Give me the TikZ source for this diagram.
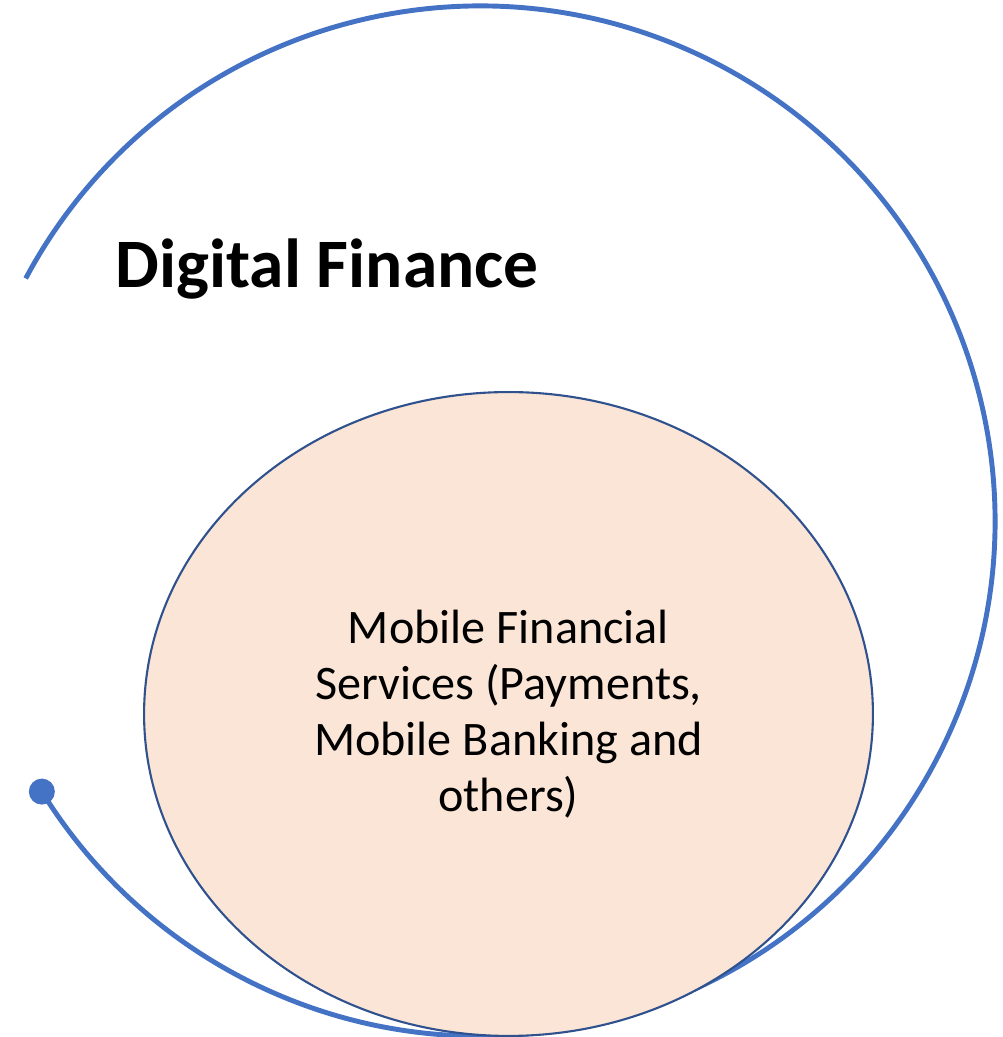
\documentclass[tikz,border=0pt]{standalone}
\usepackage{fontspec}
\setmainfont{Carlito}
\usetikzlibrary{shapes.geometric}

\definecolor{ringblue}{HTML}{4472C4}
\definecolor{edgeblue}{HTML}{2F528F}
\definecolor{peach}{HTML}{FBE5D6}

\begin{document}
\begin{tikzpicture}[x=0.02cm,y=0.02cm,
    ring/.style={draw=ringblue,line width=2.8pt},
    inner/.style={ellipse,draw=edgeblue,line width=1.2pt,fill=peach,inner sep=0pt,
        minimum width=14.58cm,minimum height=12.88cm,align=center,
        font=\fontsize{27.4}{32}\selectfont},
    title/.style={anchor=base,font=\fontsize{39.5}{45}\selectfont\bfseries}]
    \useasboundingbox (0,0) rectangle (1002,1037);

    % outer ring, open on the left
    \coordinate (ringc) at (480,516);
    \draw[ring] (ringc) ++(151.9:515) arc[start angle=151.9,end angle=-148.3,radius=515] coordinate (ringend);
    \fill[ringblue] (ringend) circle (13);

    \node[inner] (mfs) at (508.5,323) {Mobile Financial\\Services (Payments,\\Mobile Banking and\\others)};
    \node[title] (df) at (327,749) {Digital Finance};
\end{tikzpicture}
\end{document}
